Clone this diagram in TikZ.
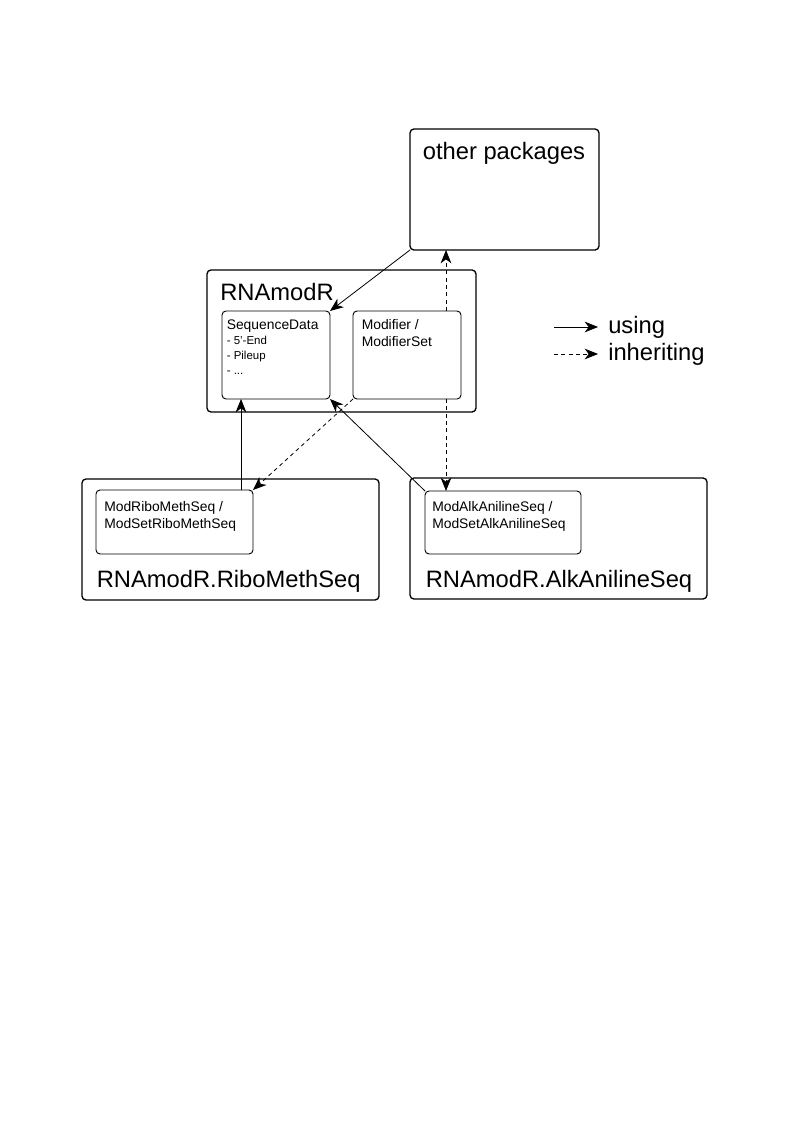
\documentclass[tikz,border=0pt]{standalone}
\usepackage{fontspec}
\setmainfont{Liberation Sans}
\usetikzlibrary{arrows.meta}
\begin{document}
\begin{tikzpicture}[x=0.75pt,y=-0.75pt,
  outerbox/.style={draw, line width=1pt, rounded corners=3pt, inner sep=0pt, outer sep=0pt, anchor=north west},
  innerbox/.style={draw, line width=0.7pt, rounded corners=3pt, inner sep=0pt, outer sep=0pt, anchor=north west},
  bigtxt/.style={font=\fontsize{17.8}{20}\selectfont, inner sep=0pt, anchor=base west},
  midtxt/.style={font=\fontsize{10.4}{12}\selectfont, inner sep=0pt, anchor=base west},
  smalltxt/.style={font=\fontsize{8.6}{10}\selectfont, inner sep=0pt, anchor=base west},
  usingarrow/.style={-{Stealth[length=10pt,width=8pt,inset=3pt]}, line width=0.6pt},
  inheritarrow/.style={usingarrow, dash pattern=on 3pt off 2.5pt}]
\useasboundingbox (0,0) rectangle (794,1123);

% boxes
\node[outerbox, minimum width=141.75pt, minimum height=90.75pt] (other) at (410,129) {};
\node[outerbox, minimum width=201.75pt, minimum height=106.5pt] (rnamodr) at (207,270) {};
\node[innerbox, minimum width=81pt, minimum height=66pt] (seq) at (222,311) {};
\node[innerbox, minimum width=81pt, minimum height=66pt] (mod) at (353,311) {};
\node[outerbox, minimum width=222.75pt, minimum height=90.75pt] (ribo) at (82,479) {};
\node[innerbox, minimum width=117.75pt, minimum height=48pt] (riboin) at (96,490) {};
\node[outerbox, minimum width=222.75pt, minimum height=90.75pt] (alk) at (410,478) {};
\node[innerbox, minimum width=117pt, minimum height=47.25pt] (alkin) at (425,491) {};

% texts
\node[bigtxt, anchor=base] (tother) at (504,160) {other packages};
\node[bigtxt] (trna) at (220,300) {RNAmodR};
\node[midtxt] (tseq) at (226.5,329) {SequenceData};
\node[smalltxt] (tseq1) at (226.5,344) {- 5'-End};
\node[smalltxt] (tseq2) at (226.5,359) {- Pileup};
\node[smalltxt] (tseq3) at (226.5,374) {- ...};
\node[midtxt] (tmod1) at (361.5,329) {Modifier /};
\node[midtxt] (tmod2) at (361.5,346) {ModifierSet};
\node[midtxt] (tribo1) at (104,511.5) {ModRiboMethSeq /};
\node[midtxt] (tribo2) at (104,528) {ModSetRiboMethSeq};
\node[bigtxt] (tribo) at (96.5,587) {RNAmodR.RiboMethSeq};
\node[midtxt] (talk1) at (432,511.5) {ModAlkAnilineSeq /};
\node[midtxt] (talk2) at (432,528) {ModSetAlkAnilineSeq};
\node[bigtxt] (talk) at (425.5,587) {RNAmodR.AlkAnilineSeq};

% legend
\coordinate (lu1) at (554,327);
\coordinate (lu2) at (598,327);
\coordinate (li1) at (554,354);
\coordinate (li2) at (598,354);
\draw[usingarrow] (lu1) -- (lu2);
\draw[inheritarrow] (li1) -- (li2);
\node[bigtxt] (tusing) at (608,333) {using};
\node[bigtxt] (tinh) at (608,360) {inheriting};

% connectors
\draw[usingarrow] (other.south west) -- (seq.north east);
\coordinate (ra) at (241,490);
\draw[usingarrow] (ra) -- (ra |- seq.south);
\draw[usingarrow] (alkin.north west) -- (seq.south east);
\draw[inheritarrow] (mod.south west) -- (riboin.north east);
\coordinate (mb) at (446,399);
\coordinate (mt) at (446,311);
\draw[inheritarrow] (mb) -- (mb |- alkin.north);
\draw[inheritarrow] (mt) -- (mt |- other.south);
\end{tikzpicture}
\end{document}
